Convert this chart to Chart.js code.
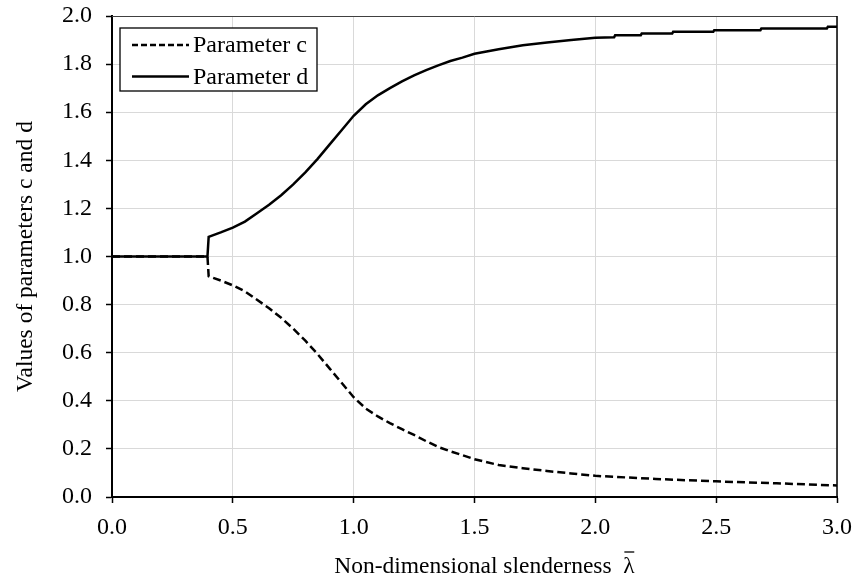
<!DOCTYPE html>
<html>
<head>
<meta charset="utf-8">
<script src="https://cdn.jsdelivr.net/npm/chart.js@4.4.0/dist/chart.umd.min.js"></script>
<style>
html,body{margin:0;padding:0;background:#fff;}
#wrap{width:857px;height:583px;position:relative;}
</style>
</head>
<body>
<div id="wrap"><canvas id="c" width="857" height="583"></canvas></div>
<script>
// ---- data ----
const lambdaC = [0, 0.395, 0.40, 0.45, 0.50, 0.55, 0.60, 0.65, 0.70, 0.75, 0.80, 0.85, 0.90, 0.95, 1.00, 1.05, 1.10, 1.15, 1.20, 1.25, 1.30, 1.35, 1.40, 1.45, 1.50, 1.60, 1.70, 1.80, 1.90, 2.00, 2.25, 2.50, 2.75, 3.00];
const paramC  = [1.0, 1.0, 0.918, 0.90, 0.88, 0.855, 0.82, 0.785, 0.745, 0.70, 0.65, 0.595, 0.535, 0.475, 0.415, 0.368, 0.335, 0.307, 0.282, 0.258, 0.232, 0.208, 0.19, 0.174, 0.157, 0.133, 0.120, 0.108, 0.098, 0.088, 0.075, 0.065, 0.057, 0.048];
const lambdaD = [0, 0.395, 0.40, 0.45, 0.50, 0.55, 0.60, 0.65, 0.70, 0.75, 0.80, 0.85, 0.90, 0.95, 1.00, 1.05, 1.10, 1.15, 1.20, 1.25, 1.30, 1.35, 1.40, 1.45, 1.50, 1.60, 1.70, 1.80, 1.90, 2.00, 2.078, 2.082, 2.188, 2.192, 2.318, 2.322, 2.488, 2.492, 2.683, 2.687, 2.958, 2.962, 3.00];
const paramD  = [1.0, 1.0, 1.082, 1.10, 1.12, 1.145, 1.18, 1.215, 1.255, 1.30, 1.35, 1.405, 1.465, 1.525, 1.585, 1.633, 1.67, 1.70, 1.728, 1.753, 1.775, 1.795, 1.813, 1.827, 1.843, 1.862, 1.878, 1.890, 1.900, 1.910, 1.912, 1.920, 1.920, 1.927, 1.927, 1.934, 1.934, 1.941, 1.941, 1.948, 1.948, 1.955, 1.955];
const seriesNames = ['Parameter c', 'Parameter d'];
const xTitleText = 'Non-dimensional slenderness';
const xTitleSymbol = '\u03BB';
const yTitle = 'Values of parameters c and d';

const pts = (xs, ys) => xs.map((x, i) => ({x: x, y: ys[i]}));
const FONT = "'Liberation Serif', 'Times New Roman', serif";
const TITLE_SIZE = 23.5;

const legendPlugin = {
  id: 'boxLegend',
  afterDatasetsDraw(chart) {
    const ctx = chart.ctx, a = chart.chartArea;
    const bx = a.left + 8, by = a.top + 12, bw = 197, bh = 63;
    ctx.save();
    ctx.fillStyle = '#fff';
    ctx.fillRect(bx, by, bw, bh);
    ctx.strokeStyle = '#000';
    ctx.lineWidth = 1.3;
    ctx.strokeRect(bx, by, bw, bh);
    chart.data.datasets.forEach((ds, i) => {
      const cy = by + 17 + i * 31.5;
      ctx.beginPath();
      ctx.setLineDash(i === 0 ? [6, 3] : []);
      ctx.lineWidth = 2.5;
      ctx.strokeStyle = ds.borderColor;
      ctx.moveTo(bx + 12, cy);
      ctx.lineTo(bx + 69, cy);
      ctx.stroke();
      ctx.setLineDash([]);
      ctx.fillStyle = '#000';
      ctx.font = '24px ' + FONT;
      ctx.textBaseline = 'middle';
      ctx.fillText(ds.label, bx + 73, cy + 1);
    });
    ctx.restore();
  }
};

const framePlugin = {
  id: 'frame',
  afterDraw(chart) {
    const ctx = chart.ctx, a = chart.chartArea;
    ctx.save();
    ctx.strokeStyle = '#404040';
    ctx.lineWidth = 1;
    ctx.beginPath();
    ctx.moveTo(a.left, a.top + 0.5);
    ctx.lineTo(a.right, a.top + 0.5);
    ctx.stroke();
    ctx.strokeStyle = '#000';
    ctx.lineWidth = 1.5;
    ctx.beginPath();
    ctx.moveTo(a.right, a.top);
    ctx.lineTo(a.right, a.bottom);
    ctx.stroke();
    // x-axis title: text + lambda with overbar
    const full = xTitleText + '  ' + xTitleSymbol;
    ctx.font = TITLE_SIZE + 'px ' + FONT;
    ctx.fillStyle = '#000';
    ctx.textBaseline = 'alphabetic';
    const w = ctx.measureText(full).width;
    const cx = (a.left + a.right) / 2;
    const x0 = cx - w / 2 + 10;
    const baseY = 573;
    ctx.fillText(full, x0, baseY);
    const lx = x0 + ctx.measureText(xTitleText + '  ').width;
    const lw = ctx.measureText(xTitleSymbol).width;
    ctx.lineWidth = 1.3;
    ctx.beginPath();
    ctx.moveTo(lx + 1, baseY - 21);
    ctx.lineTo(lx + lw - 0.5, baseY - 21);
    ctx.stroke();
    ctx.restore();
  }
};

new Chart(document.getElementById('c'), {
  type: 'scatter',
  data: {
    datasets: [
      {label: seriesNames[0], data: pts(lambdaC, paramC), showLine: true, borderColor: '#000', borderWidth: 2.5, borderDash: [8, 4], pointRadius: 0, tension: 0, fill: false},
      {label: seriesNames[1], data: pts(lambdaD, paramD), showLine: true, borderColor: '#000', borderWidth: 2.5, pointRadius: 0, tension: 0, fill: false}
    ]
  },
  options: {
    responsive: false,
    animation: false,
    devicePixelRatio: 1,
    layout: {padding: {top: 16, right: 20, left: 0, bottom: 0}},
    plugins: {legend: {display: false}, tooltip: {enabled: false}},
    scales: {
      x: {
        type: 'linear', min: 0, max: 3,
        afterFit(s) { s.height = 86; s.paddingLeft = 0; s.paddingRight = 0; },
        ticks: {stepSize: 0.5, color: '#000', font: {family: FONT, size: 24}, padding: 10, maxRotation: 0,
          callback: v => v.toFixed(1)},
        grid: {color: '#d9d9d9', lineWidth: 1, tickColor: '#000', tickLength: 6, tickWidth: 1.5},
        border: {color: '#000', width: 2}
      },
      y: {
        min: 0, max: 2,
        afterFit(s) { s.width = 112; s.paddingTop = 0; s.paddingBottom = 0; },
        ticks: {stepSize: 0.2, color: '#000', font: {family: FONT, size: 24}, padding: 14,
          callback: v => v.toFixed(1)},
        grid: {color: '#d9d9d9', lineWidth: 1, tickColor: '#000', tickLength: 6, tickWidth: 1.5},
        border: {color: '#000', width: 2},
        title: {display: true, text: yTitle, color: '#000', font: {family: FONT, size: TITLE_SIZE}, padding: {top: 12, bottom: 0}}
      }
    }
  },
  plugins: [legendPlugin, framePlugin]
});
</script>
</body>
</html>
